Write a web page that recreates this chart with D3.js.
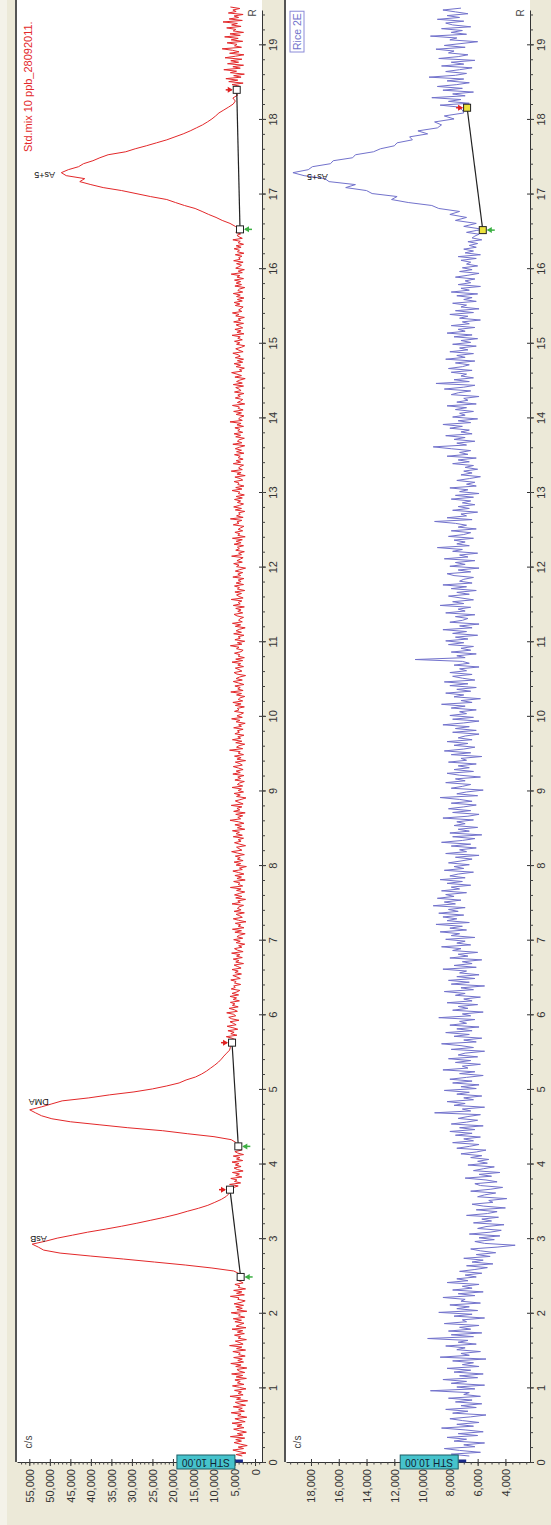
<!DOCTYPE html>
<html lang="en">

<head>
    <meta charset="UTF-8">
    <title>Chromatogram</title>
    <style>
        body { margin: 0; background: #ece9d8; }
        svg { display: block; font-family: 'Liberation Sans', Arial, sans-serif; }
    </style>
</head>

<body>
    <svg id="svg" width="551" height="1525"></svg>

    <script src="https://d3js.org/d3.v7.min.js"></script>
    <script>
        // tick labels
        const timeTicks = d3.range(0, 20)
        const redValueTicks = [0, 5000, 10000, 15000, 20000, 25000, 30000, 35000, 40000, 45000, 50000, 55000]
        const blueValueTicks = [4000, 6000, 8000, 10000, 12000, 14000, 16000, 18000]

        // red trace (Std.mix 10 ppb), c/s, stored in segments
        const redBase1 = [3100, 4600, 2200, 3900, 5400, 2800, 4100, 1900, 3600, 5100,
            3300, 4700, 2500, 6000, 3000, 4300, 2100, 3800, 5200, 2700,
            4400, 3200, 5600, 2400, 3700, 4900, 2000, 4200, 3400, 5800,
            2600, 4000, 3100, 5300, 2300, 3900, 4800, 1800, 4500, 3500,
            6100, 2900, 4100, 3300, 5000, 2200, 3800, 5500, 2700, 4300,
            3600, 4900, 2100, 4600, 3000, 5700, 2500, 3900, 4400, 2000,
            4700, 3400, 5900, 2800, 4200, 3100, 5200, 2400, 4000, 3600,
            5400, 2300, 4500, 3200, 6200, 2900, 3700, 4800, 2100, 4100,
            3500, 5000, 2600, 4300, 3000, 5600, 2200, 4600, 3800, 2700,
            4900, 3300, 5300, 2500, 4000, 3600, 5800, 2000, 4400, 3100,
            4700, 2800, 5100, 3400, 2400, 4200, 3900, 6000, 2600, 4500,
            3200, 5200, 2300, 4100, 3700, 4900, 2900, 3600, 4400, 3300]
        const redAsB = [3500, 3700, 5200, 10500, 17000, 24500, 32000, 40000, 47500, 51500,
            52800, 54300, 51000, 48200, 44500, 40800, 36500, 32500, 28800, 25400,
            22000, 19000, 16500, 13800, 11500, 9800, 8200, 7000, 6300, 5900]
        const redGap = [5200, 4100, 6200, 3500, 5000, 4400, 5900, 3200, 4700, 3800,
            5500, 2900, 4300, 5100, 3400, 4800, 3900, 5600, 3000, 4500,
            3700, 5300, 2800, 4200, 4900, 3300, 4600, 4000]
        const redDMA = [4100, 4600, 5800, 10000, 16500, 22500, 31000, 38000, 45000, 49500,
            52000, 53500, 54900, 52000, 49500, 47000, 40500, 35500, 29500, 25000,
            21500, 18500, 16800, 14500, 13000, 11800, 10800, 9800, 8900, 8200,
            7600, 6900, 6200, 6000, 5500]
        const redMid = [6200, 4800, 5600, 7000, 4400, 5900, 5100, 6600, 4200, 5400,
            6800, 4600, 5300, 6100, 3900, 5700, 6400, 4700, 5200, 6900,
            4300, 5000, 6300, 4100, 5500, 4900, 6000, 3800, 5300, 4500,
            6100, 4000, 5600, 4400, 3700, 5800, 4800, 5200, 3500, 5000,
            4600, 5900, 3600, 4400, 5400, 3300, 4900, 4100, 5600, 3400,
            4200, 5100, 2800, 4700, 3900, 5300, 3100, 4500, 3700, 5700,
            2900, 4300, 5000, 3200, 4000, 2500, 4600, 3600, 5200, 3000,
            4400, 3800, 2400, 4900, 3300, 5500, 2700, 4100, 3500, 4800,
            2200, 4000, 5300, 3100, 3700, 4600, 2600, 5100, 3400, 4300,
            3900, 2800, 5600, 3600, 4200, 2300, 4700, 3200, 5000, 3800,
            2500, 4500, 3400, 6000, 3000, 4100, 3700, 5200, 2400, 4400,
            3300, 4900, 2700, 4000, 5400, 3100, 3800, 2100, 4600, 3500,
            5100, 2900, 4300, 3600, 4800, 2600, 4200, 5700, 3200, 3900,
            4500, 2300, 3700, 5000, 3400, 4100, 2800, 5300, 3100, 4600,
            3800, 5500, 2500, 4300, 3300, 4900, 2700, 4000, 6100, 3500,
            4200, 3000, 4700, 2400, 5200, 3700, 4400, 3200, 5800, 2900,
            3900, 4800, 3400, 2200, 4500, 3600, 5100, 2800, 4100, 3300,
            5600, 3000, 4300, 3800, 2600, 4900, 3500, 4200, 2700, 5400,
            3600, 4600, 2900, 4000, 5300, 3100, 3700, 4800, 2300, 4400,
            3400, 5000, 2800, 4100, 3600, 6200, 3000, 4500, 3900, 2500,
            4700, 3200, 5500, 3500, 4200, 2700, 4900, 3800, 4300, 2900,
            5200, 3300, 4000, 2400, 4600, 3700, 5700, 3100, 4400, 3500,
            2800, 5000, 3900, 4300, 2600, 4800, 3400, 5400, 3000, 4100,
            3700, 2500, 4500, 3300, 5900, 2900, 4200, 3600, 4900, 2700,
            4000, 5300, 3100, 4600, 3800, 2300, 4400, 5100, 3200, 3900,
            4800, 2800, 4200, 3500, 5600, 3000, 4700, 2600, 4100, 3700,
            5000, 3400, 2900, 4500, 3900, 6000, 3200, 4300, 2500, 4900,
            3600, 4100, 2700, 5200, 3300, 4600, 3800, 2400, 4800, 3500,
            5500, 3100, 4000, 3700, 2800, 4400, 5100, 3000, 4200, 3400,
            4700, 2600, 5300, 3600, 4100, 3200, 5800, 2900, 3900, 4500,
            3300, 4900, 2500, 4300, 3800, 5000, 2800, 4600, 3400, 4100,
            2700, 5400, 3500, 4200, 3000, 4800, 3700, 2300, 4500, 3900,
            5200, 3100, 4400, 3600, 2900, 5700, 3300, 4000, 2600, 4700,
            3800, 4300, 2800, 5100, 3400, 4600, 3100, 5500, 2400, 4200,
            3700, 4900, 3000, 4100, 3500, 2700, 5300, 3900, 4400, 3200,
            6000, 2900, 4500, 3600, 4000, 2500, 4800, 3300, 5200, 3800,
            2800, 4300, 3500, 5000, 3100, 4600, 2600, 4100, 3700, 5600,
            3200, 4700, 2700, 4200, 3900, 5100, 3000, 3600, 4900, 2400,
            4400, 3400, 5800, 3100, 4000, 3700, 2800, 5300, 3500, 4600,
            2900, 4100, 3600, 5000, 2700, 4500, 3300, 4800, 3800, 2500,
            5400, 3200, 4300, 3900, 2600, 4700, 3500, 5100, 3000, 4200,
            3700, 4900, 2800, 4400, 3400, 6100, 3100, 4000, 3600, 2700,
            4600, 3300, 5200, 2900, 4100, 3800, 5500, 2500, 4300, 3500,
            3000, 4800, 3600, 4200, 2700, 5000, 3400, 3900, 4700, 2800,
            5300, 3100, 4500, 3700, 2400, 4900, 3300, 4400, 5700, 3200,
            3800, 2600, 4600, 3500, 5100, 3000, 4300, 2800, 4800, 3600,
            4100, 5400, 2900, 3900, 4700, 3300, 2500, 4500, 3700, 5000,
            3100, 4200, 3600, 5600, 2700, 4400, 3400, 4900, 3000, 3800,
            4600, 2800, 5200, 3500, 4100, 2600, 4700, 3900, 5500, 3200,
            4000, 3400, 2900, 4800, 3700, 5100, 3100, 4300, 2700, 4500,
            3600, 5300, 3000, 4200, 3800, 2500, 4900, 3300, 4600, 3500,
            5000, 2800, 4400, 3700, 5800, 3100, 4100, 2600, 4700, 3900,
            3300, 4500, 2900, 5200, 3600, 4000, 3200, 4800, 2700, 4300,
            3800, 5100, 3400, 4600, 2800, 4100, 3600, 5400, 3100, 3900,
            4400, 3500, 4700, 3200]
        const redAs5 = [3700, 4800, 6100, 8000, 9500, 11300, 12900, 14600, 17200, 19400,
            21500, 25500, 29000, 32500, 37000, 40000, 42700, 41500, 46000, 47200,
            45500, 43000, 41800, 39500, 37800, 35800, 31500, 29200, 26500, 24000,
            21500, 19500, 17500, 15800, 14300, 12800, 11600, 10500, 9600, 8800,
            7600, 6400, 5300, 4800, 5400, 4200, 5000, 4400]
        const redTail = [3800, 5600, 2900, 6400, 4200, 7100, 3400, 5200, 2600, 6000,
            4500, 7600, 3600, 5400, 2800, 6700, 4000, 5900, 3200, 7300,
            4800, 2700, 6200, 3900, 5500, 8000, 3300, 5000, 4400, 6800,
            3000, 5800, 4100, 7400, 3600, 6100, 2800, 5300, 4700, 6900,
            3400, 5700, 4300, 7800, 3100, 6300, 4000, 5100, 2900, 6500,
            4600, 5400, 3700, 6000]
        const redSegStart = [0.08, 2.48, 3.68, 4.24, 5.64, 16.52, 18.44]
        const redSegStep = [0.02, 0.04, 0.02, 0.04, 0.02, 0.04, 0.02]

        // blue trace (Rice 2E), c/s
        const blueBase = [6600, 7900, 5800, 7300, 8400, 6200, 7000, 5500, 7700, 6800,
            8200, 6000, 7400, 5600, 6900, 8600, 6300, 7500, 5900, 7100,
            8000, 6500, 5400, 7800, 6700, 8300, 6100, 7200, 5700, 7600,
            6400, 8100, 5800, 7000, 6600, 9400, 6200, 7500, 5500, 7900,
            6800, 8500, 6000, 7300, 5600, 7700, 6500, 8200, 5900, 7100,
            6300, 7800, 5400, 8700, 6600, 7200, 5800, 7500, 6900, 8300,
            6100, 7400, 6700, 9600, 6300, 7900, 5700, 8100, 6500, 7300,
            5900, 8400, 6800, 7100, 5500, 7700, 6400, 8800, 6000, 7500,
            6600, 8000, 5800, 7200, 6900, 8500, 6200, 7400, 5600, 7800,
            6400, 7100, 5900, 8200, 6700, 7500, 6100, 6900, 5700, 7300,
            6200, 5300, 6800, 4900, 6400, 5600, 7000, 5100, 6100, 4700,
            5800, 6500, 4600, 3300, 5500, 6200, 4800, 5900, 4400, 6600,
            5100, 4300, 6000, 5400, 4100, 6300, 5000, 5700, 4500, 6800,
            5300, 4600, 6100, 4000, 5600, 6400, 4900, 5200, 3900, 6000,
            5500, 4700, 6500, 5100, 4200, 5800, 6200, 4600, 5400, 6900,
            5000, 5900, 4400, 6300, 5600, 4800, 6700, 5300, 6000, 5200,
            6500, 5700, 7200, 6100, 5400, 7500, 6600, 5900, 7800, 6300,
            7000, 5800, 7600, 6400, 8000, 6200, 7300, 5600, 7900, 6800,
            6000, 7400, 6700, 5800, 9100, 6500, 7100, 5500, 7700, 6900,
            8200, 6300, 7000, 5700, 7500, 6600, 8400, 6100, 7200, 5900,
            7800, 6400, 8000, 6800, 5600, 7300, 6200, 8500, 6700, 7100,
            5800, 7600, 6500, 8100, 6000, 7400, 6900, 5500, 7900, 6300,
            7200, 8600, 6100, 7000, 5700, 7700, 6600, 8300, 6400, 7500,
            5900, 8000, 6800, 7300, 6200, 8800, 6500, 7100, 5600, 7800,
            6700, 7400, 6000, 8200, 6400, 7000, 5800, 7600, 6900, 8400,
            6300, 7200, 5500, 7900, 6600, 8100, 6200, 7500, 5900, 7300,
            6800, 8500, 6100, 7700, 6400, 7100, 5700, 8000, 6700, 7400,
            6000, 7800, 7200, 8600, 6500, 7500, 6900, 8300, 6200, 7900,
            7300, 8700, 6800, 8000, 7100, 9000, 6600, 8200, 7500, 8500,
            7000, 8800, 7400, 8100, 6900, 9200, 7600, 8400, 7200, 8900,
            7700, 8300, 6800, 8600, 7300, 7900, 6500, 8200, 7100, 8700,
            6900, 8000, 7400, 6300, 8400, 7000, 7700, 6600, 8100, 7200,
            6400, 7600, 5900, 8300, 6800, 7300, 6100, 7900, 6500, 8600,
            7100, 6200, 7800, 5700, 8000, 6600, 7400, 6000, 7700, 6900,
            7500, 6300, 8500, 6700, 5900, 7800, 6500, 8100, 7000, 6100,
            7900, 6400, 7300, 8700, 6000, 7500, 6800, 5600, 7900, 7100,
            6500, 8300, 6900, 7600, 5800, 7300, 8200, 6300, 7700, 6600,
            7400, 6100, 8100, 6800, 7200, 5700, 7900, 6500, 8400, 7000,
            6200, 7700, 6700, 8200, 6400, 7400, 6900, 5900, 7800, 6100,
            7600, 6600, 8500, 7000, 5900, 7800, 6300, 8000, 6800, 7300,
            6100, 7900, 6900, 8600, 6400, 7200, 5800, 7700, 7000, 8300,
            6500, 7500, 6100, 8000, 6700, 8400, 6200, 7100, 7800, 6400,
            8000, 6800, 7300, 5900, 7700, 6600, 7100, 10500, 6900, 7500,
            6100, 7900, 6500, 7200, 6300, 8100, 7000, 8300, 6700, 7600,
            6000, 7800, 6800, 8500, 6400, 7300, 5900, 8000, 7100, 6700,
            7600, 6200, 8300, 6900, 7400, 6500, 8700, 7000, 7800, 6300,
            7200, 8100, 6600, 7500, 6100, 7900, 6800, 8500, 6400, 7300,
            7000, 6300, 7700, 8200, 6500, 7400, 5900, 8000, 6900, 7600,
            6200, 8400, 6700, 7300, 6000, 7800, 7100, 8900, 6600, 7500,
            6900, 7700, 6300, 8100, 7000, 6500, 7900, 6100, 7400, 6800,
            7600, 9100, 6400, 8200, 6800, 7200, 6000, 7800, 6600, 7400,
            6200, 7100, 6500, 7900, 6300, 7600, 5900, 7300, 6700, 8000,
            6100, 6800, 6200, 7500, 6600, 5800, 7200, 6400, 7000, 6000,
            6900, 6300, 7800, 6600, 7400, 6100, 8200, 6700, 7300, 6500,
            7900, 9200, 6800, 7500, 6200, 7700, 6900, 8300, 6400, 7200,
            6600, 8000, 7100, 8500, 6500, 7400, 6000, 7800, 6900, 7300,
            6300, 7600, 6800, 8200, 6100, 7500, 6700, 7000, 5900, 7900,
            7400, 6500, 8400, 7000, 6200, 9000, 6600, 7700, 6300, 7200,
            6800, 7900, 6400, 8100, 7100, 6600, 7600, 6200, 8300, 6900,
            7500, 6300, 8000, 6700, 7300, 6100, 7800, 6500, 7200, 6000,
            7700, 6400, 8200, 6900, 7400, 6200, 7900, 6600, 7100, 5800,
            7300, 6700, 8000, 6300, 7600, 5900, 7200, 6800, 7800, 6100,
            7000, 6400, 7500, 6000, 7900, 6600, 7200, 5800, 7400, 6500,
            6900, 6200, 7600, 6700, 5900, 7300, 6400, 7100, 6000, 6800,
            6500, 7200, 6100, 7400, 5800, 6900, 6300, 7000, 6100, 6600,
            6000, 6700, 5700, 6400, 6200, 5900, 6800, 6100, 6500, 6300]
        const bluePeak = [5600, 7000, 6100, 7600, 6800, 8000, 7300, 8800, 9300, 11000,
            12200, 11800, 13600, 14000, 15500, 14800, 16700, 17000, 18500, 19300,
            18200, 17900, 16600, 16400, 15000, 14800, 13500, 13000, 12000, 11800,
            10700, 10900, 9600, 10300, 8900, 8600, 9100, 7700, 8400, 7000, 7100]
        const blueTail = [7400, 8700, 6600, 8100, 7200, 9300, 6900, 7800, 6300, 8500,
            7100, 8900, 7500, 6600, 8200, 7000, 9500, 7600, 6800, 8300,
            7300, 6400, 8600, 7000, 7900, 6200, 8800, 7400, 6700, 8100,
            7700, 9000, 6900, 8400, 7200, 6000, 8000, 7500, 9400, 6800,
            7900, 7100, 8600, 6500, 7800, 8300, 7000, 8900, 7300, 8200,
            6700, 7600, 8500, 7200]
        const blueSegStart = [0.08, 16.52, 18.16]
        const blueSegStep = [0.025, 0.04, 0.025]

        // peaks: names, apex, integration start / end
        const redPeakNames = ['AsB', 'DMA', 'As+5']
        const redApexT = [2.92, 4.72, 17.28]
        const redApexV = [54300, 54900, 47200]
        const redStartT = [2.48, 4.23, 16.52]
        const redStartV = [3500, 4070, 3660]
        const redEndT = [3.65, 5.62, 18.39]
        const redEndV = [6100, 5600, 4460]

        const bluePeakNames = ['As+5']
        const blueApexT = [17.28]
        const blueApexV = [19300]
        const blueStartT = [16.51]
        const blueStartV = [5630]
        const blueEndT = [18.15]
        const blueEndV = [6760]

        // smoothing threshold markers
        const redSth = 4900
        const blueSth = 7400

        function build(starts, steps, segs) {
            const pts = []
            segs.forEach((vals, k) => {
                const next = k < segs.length - 1 ? starts[k + 1] : Infinity
                vals.forEach((v, i) => {
                    const t = starts[k] + i * steps[k]
                    if (t < next - 1e-6) pts.push({ t: t, v: v })
                })
            })
            return pts
        }

        const redData = build(redSegStart, redSegStep, [redBase1, redAsB, redGap, redDMA, redMid, redAs5, redTail])
        const blueData = build(blueSegStart, blueSegStep, [blueBase, bluePeak, blueTail])

        const svg = d3.select('#svg')
        const beige = '#ece9d8'
        const axisY = 1462

        const tScale = d3.scaleLinear()
            .domain([0, 19.46])
            .range([axisY, 10])

        const panels = [
            {
                left: 17, right: 262, data: redData, color: '#e3282a',
                x: d3.scaleLinear().domain([-1700, 58000]).range([262, 17]),
                ticks: redValueTicks, minor: 1000, sth: redSth,
                title: 'Std.mix 10 ppb_28092011.', titleX: 28, titleY: 152,
                names: redPeakNames, apexT: redApexT, apexV: redApexV,
                startT: redStartT, startV: redStartV, endT: redEndT, endV: redEndV,
                boxFill: '#ffffff',
                labelOff: [[-2, -5], [-1, -8], [-27, 2]]
            },
            {
                left: 286, right: 530, data: blueData, color: '#7272cc',
                x: d3.scaleLinear().domain([2230, 19800]).range([530, 286]),
                ticks: blueValueTicks, minor: 500, sth: blueSth,
                title: 'Rice 2E', titleX: 297, titleY: 50,
                names: bluePeakNames, apexT: blueApexT, apexV: blueApexV,
                startT: blueStartT, startV: blueStartV, endT: blueEndT, endV: blueEndV,
                boxFill: '#ece23c',
                labelOff: [[14, 4]]
            }
        ]

        svg.append('rect').attr('width', 551).attr('height', 1525).attr('fill', beige)
        svg.append('rect').attr('width', 7).attr('height', 1525).attr('fill', '#f4f2e9')

        panels.forEach((p, k) => {
            const g = svg.append('g')
            const clipId = 'clip' + k

            g.append('rect')
                .attr('x', p.left).attr('y', 0)
                .attr('width', p.right - p.left).attr('height', axisY)
                .attr('fill', '#fff')
            g.append('line')
                .attr('x1', p.left - 1).attr('x2', p.left - 1)
                .attr('y1', 0).attr('y2', axisY)
                .attr('stroke', '#555').attr('stroke-width', 2)

            svg.append('clipPath').attr('id', clipId)
                .append('rect')
                .attr('x', p.left).attr('y', 0)
                .attr('width', p.right - p.left).attr('height', axisY)

            // trace
            const line = d3.line()
                .x(d => p.x(d.v))
                .y(d => tScale(d.t))
            g.append('path')
                .datum(p.data)
                .attr('clip-path', `url(#${clipId})`)
                .attr('fill', 'none')
                .attr('stroke', p.color)
                .attr('stroke-width', 1)
                .attr('d', line)

            // integration baselines and markers
            p.startT.forEach((t, i) => {
                const x1 = p.x(p.startV[i]), y1 = tScale(t)
                const x2 = p.x(p.endV[i]), y2 = tScale(p.endT[i])
                g.append('line')
                    .attr('x1', x1).attr('y1', y1).attr('x2', x2).attr('y2', y2)
                    .attr('stroke', '#222').attr('stroke-width', 1.2)
                // start: green arrow on the right
                g.append('line')
                    .attr('x1', x1 + 5).attr('x2', x1 + 12).attr('y1', y1).attr('y2', y1)
                    .attr('stroke', '#3cb043').attr('stroke-width', 1.5)
                g.append('path')
                    .attr('d', `M${x1 + 4},${y1}L${x1 + 9},${y1 - 3}L${x1 + 9},${y1 + 3}Z`)
                    .attr('fill', '#3cb043')
                // end: red arrow on the left
                g.append('line')
                    .attr('x1', x2 - 5).attr('x2', x2 - 11).attr('y1', y2).attr('y2', y2)
                    .attr('stroke', '#e02020').attr('stroke-width', 1.5)
                g.append('path')
                    .attr('d', `M${x2 - 4},${y2}L${x2 - 9},${y2 - 3}L${x2 - 9},${y2 + 3}Z`)
                    .attr('fill', '#e02020')
                    ;[[x1, y1], [x2, y2]].forEach(c => {
                        g.append('rect')
                            .attr('x', c[0] - 3.5).attr('y', c[1] - 3.5)
                            .attr('width', 7).attr('height', 7)
                            .attr('fill', p.boxFill)
                            .attr('stroke', '#222').attr('stroke-width', 1)
                    })
            })

            // peak names (upside down)
            p.names.forEach((n, i) => {
                const x = p.x(p.apexV[i]) + p.labelOff[i][0]
                const y = tScale(p.apexT[i]) + p.labelOff[i][1]
                g.append('text')
                    .attr('transform', `translate(${x},${y}) rotate(180)`)
                    .attr('text-anchor', 'end')
                    .attr('dominant-baseline', 'central')
                    .attr('font-size', 9)
                    .attr('fill', '#111')
                    .text(n)
            })

            // title
            const title = g.append('text')
                .attr('transform', `translate(${p.titleX},${p.titleY}) rotate(-90)`)
                .attr('dominant-baseline', 'central')
                .attr('font-size', k === 0 ? 11 : 10.5)
                .attr('fill', k === 0 ? '#e3282a' : '#7272cc')
                .text(p.title)
            if (k === 1) {
                const bb = title.node().getBBox()
                g.insert('rect', 'text')
                    .attr('transform', `translate(${p.titleX},${p.titleY}) rotate(-90)`)
                    .attr('x', -2).attr('y', bb.y - 1)
                    .attr('width', bb.width + 4).attr('height', bb.height + 2)
                    .attr('fill', '#fff').attr('stroke', '#8a8ad8').attr('stroke-width', 1)
            }

            // c/s and R
            g.append('text')
                .attr('transform', `translate(${p.left + 11},${axisY - 20}) rotate(-90)`)
                .attr('text-anchor', 'middle').attr('dominant-baseline', 'central')
                .attr('font-size', 10).attr('fill', '#444')
                .text('c/s')
            g.append('text')
                .attr('transform', `translate(${p.right - 10},13) rotate(-90)`)
                .attr('text-anchor', 'middle').attr('dominant-baseline', 'central')
                .attr('font-size', 10).attr('fill', '#444')
                .text('R')

            // time axis
            const tAxis = g.append('g')
                .attr('transform', `translate(${p.right},0)`)
                .call(d3.axisRight(tScale).tickValues(timeTicks).tickSize(4).tickSizeOuter(0).tickFormat(d3.format('d')))
            tAxis.call(a => a.select('.domain').attr('stroke', '#333'))
            tAxis.selectAll('.tick line').attr('stroke', '#333')
            tAxis.selectAll('.tick text')
                .attr('x', null).attr('dy', null)
                .attr('transform', 'translate(11,0) rotate(-90)')
                .attr('text-anchor', 'middle')
                .attr('dominant-baseline', 'central')
                .attr('font-size', 11).attr('fill', '#333')
                .attr('font-family', 'Liberation Sans, Arial, sans-serif')
            g.append('g')
                .attr('transform', `translate(${p.right},0)`)
                .call(d3.axisLeft(tScale).tickValues(timeTicks).tickSize(3).tickSizeOuter(0).tickFormat(''))
                .call(a => a.select('.domain').remove())
                .selectAll('.tick line').attr('stroke', '#333')
            g.append('g')
                .attr('transform', `translate(${p.right},0)`)
                .call(d3.axisRight(tScale).tickValues(d3.range(0, 19.5, 0.2)).tickSize(3).tickSizeOuter(0).tickFormat(''))
                .call(a => a.select('.domain').remove())
                .selectAll('.tick line').attr('stroke', '#444')

            // value axis
            const vAxis = g.append('g')
                .attr('transform', `translate(0,${axisY})`)
                .call(d3.axisBottom(p.x).tickValues(p.ticks).tickSize(4).tickSizeOuter(0).tickFormat(d3.format(',')))
            vAxis.call(a => a.select('.domain').attr('stroke', '#333'))
            vAxis.selectAll('.tick line').attr('stroke', '#333')
            vAxis.selectAll('.tick text')
                .attr('y', null).attr('dy', null)
                .attr('transform', 'translate(0,7) rotate(-90)')
                .attr('text-anchor', 'end')
                .attr('dominant-baseline', 'central')
                .attr('font-size', 11).attr('fill', '#333')
                .attr('font-family', 'Liberation Sans, Arial, sans-serif')
            g.append('g')
                .attr('transform', `translate(0,${axisY})`)
                .call(d3.axisTop(p.x).tickValues(p.ticks).tickSize(3).tickSizeOuter(0).tickFormat(''))
                .call(a => a.select('.domain').remove())
                .selectAll('.tick line').attr('stroke', '#333')
            const dom = p.x.domain()
            g.append('g')
                .attr('transform', `translate(0,${axisY})`)
                .call(d3.axisBottom(p.x).tickValues(d3.range(Math.ceil(dom[0] / p.minor) * p.minor, dom[1], p.minor)).tickSize(2.5).tickSizeOuter(0).tickFormat(''))
                .call(a => a.select('.domain').remove())
                .selectAll('.tick line').attr('stroke', '#444')

            // STH box
            const sx = p.x(p.sth)
            g.append('line')
                .attr('x1', sx).attr('x2', sx + 8).attr('y1', axisY - 1).attr('y2', axisY - 1)
                .attr('stroke', '#1a2a8a').attr('stroke-width', 3)
            g.append('rect')
                .attr('x', sx - 58).attr('y', axisY - 7)
                .attr('width', 58).attr('height', 14)
                .attr('fill', '#46c3cc').attr('stroke', '#1d5f66').attr('stroke-width', 1)
            g.append('text')
                .attr('transform', `translate(${sx - 29},${axisY}) rotate(180)`)
                .attr('text-anchor', 'middle').attr('dominant-baseline', 'central')
                .attr('font-size', 10).attr('fill', '#123')
                .text('STH 10.00')
        })
    </script>
</body>

</html>
